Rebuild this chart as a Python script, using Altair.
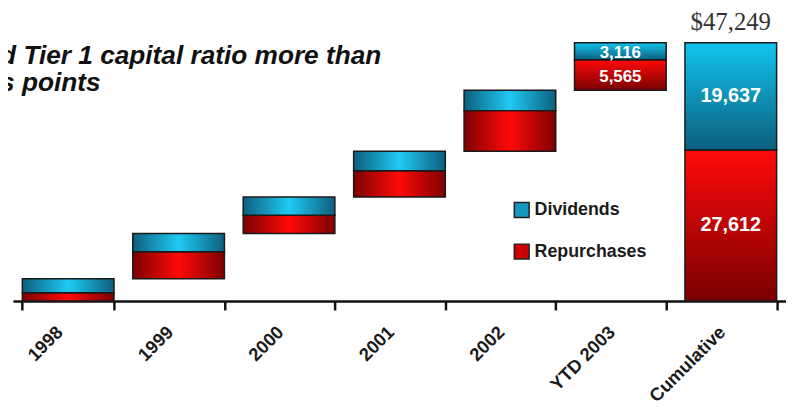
import altair as alt
import pandas as pd

# ---- data ----
categories = ["1998", "1999", "2000", "2001", "2002", "YTD 2003"]
dividends = [2540, 3340, 3340, 3560, 3741, 3116]
repurchases = [1520, 4950, 3320, 4830, 7427, 5565]
total_category = "Cumulative"
series_names = ["Dividends", "Repurchases"]
vertical_shaded = ["YTD 2003", "Cumulative"]
small_labelled = ["YTD 2003"]
big_labelled = ["Cumulative"]
headline_lines = ["d Tier 1 capital ratio more than", "s points"]

order = categories + [total_category]

rows = []
base = 0
for c, d, r in zip(categories, dividends, repurchases):
    rows.append(dict(cat=c, series="Repurchases", lo=base, hi=base + r, val=r))
    rows.append(dict(cat=c, series="Dividends", lo=base + r, hi=base + r + d, val=d))
    base += r + d
tot_r = sum(repurchases)
tot_d = sum(dividends)
rows.append(dict(cat=total_category, series="Repurchases", lo=0, hi=tot_r, val=tot_r))
rows.append(dict(cat=total_category, series="Dividends", lo=tot_r, hi=tot_r + tot_d, val=tot_d))
df = pd.DataFrame(rows)
df["mid"] = (df["lo"] + df["hi"]) / 2
df["shade"] = ["v" if c in vertical_shaded else "h" for c in df["cat"]]
grand_total = tot_r + tot_d
total_df = pd.DataFrame([dict(cat=total_category, top=grand_total,
                              label="$" + format(grand_total, ","))])
head_df = pd.DataFrame([dict(t="\n".join(headline_lines))])

FONT = "Liberation Sans"


def grad(colors, vertical):
    stops = [alt.GradientStop(offset=o, color=c) for o, c in colors]
    if vertical:
        return alt.LinearGradient(gradient="linear", stops=stops, x1=0, x2=0, y1=0, y2=1)
    return alt.LinearGradient(gradient="linear", stops=stops, x1=0, x2=1, y1=0, y2=0)


blue_h = grad([(0, "#0d5f7f"), (0.5, "#1fcaf2"), (1, "#0d5f7f")], False)
red_h = grad([(0, "#7e0000"), (0.5, "#ff0a0a"), (1, "#7e0000")], False)
blue_v = grad([(0, "#12c4ee"), (1, "#0b5f7e")], True)
red_v = grad([(0, "#ff0a0a"), (1, "#7a0000")], True)

x_enc = alt.X(
    "cat:N", sort=order,
    scale=alt.Scale(domain=order, paddingInner=0.17, paddingOuter=0.085),
    axis=alt.Axis(title=None, labelAngle=-45, labelAlign="right", labelBaseline="middle",
                  labelOffset=-9, labelPadding=19, labelFont=FONT, labelFontWeight="bold",
                  labelFontSize=18.5, labelColor="#1a1a1a", domainColor="#111111",
                  domainWidth=2.5, tickColor="#111111", tickWidth=2.5, tickSize=9,
                  tickBand="extent", grid=False, labelOverlap=False, labelBound=False,
                  labelFlush=False),
)
y_scale = alt.Scale(domain=[0, grand_total], nice=False, zero=True)

base_chart = alt.Chart(df)


def bars(series, shade, fill):
    return base_chart.transform_filter(
        (alt.datum.series == series) & (alt.datum.shade == shade)
    ).mark_bar(fill=fill, stroke="#1a1a1a", strokeWidth=1.5).encode(
        x=x_enc,
        y=alt.Y("lo:Q", scale=y_scale, axis=None),
        y2="hi:Q",
    )


layers = [
    bars("Repurchases", "h", red_h),
    bars("Dividends", "h", blue_h),
    bars("Repurchases", "v", red_v),
    bars("Dividends", "v", blue_v),
]

small_labels = base_chart.transform_filter(
    alt.FieldOneOfPredicate(field="cat", oneOf=small_labelled)
).mark_text(font=FONT, fontWeight="bold", fontSize=17, color="white", baseline="middle", dy=2).encode(
    x=x_enc,
    y=alt.Y("mid:Q", scale=y_scale, axis=None),
    text=alt.Text("val:Q", format=","),
)
big_labels = base_chart.transform_filter(
    alt.FieldOneOfPredicate(field="cat", oneOf=big_labelled)
).mark_text(font=FONT, fontWeight="bold", fontSize=20, color="white", baseline="middle").encode(
    x=x_enc,
    y=alt.Y("mid:Q", scale=y_scale, axis=None),
    text=alt.Text("val:Q", format=","),
)
total_text = alt.Chart(total_df).mark_text(
    font="Liberation Serif", fontSize=25, color="#333333", baseline="alphabetic", dy=-13
).encode(
    x=x_enc,
    y=alt.Y("top:Q", scale=y_scale, axis=None),
    text="label:N",
)
headline = alt.Chart(head_df).mark_text(
    font=FONT, fontWeight="bold", fontStyle="italic", fontSize=26.5, color="#111111",
    align="left", baseline="alphabetic", lineBreak="\n", lineHeight=27,
).encode(
    x=alt.value(-13),
    y=alt.value(21.5),
    text="t:N",
)
legend_layer = alt.Chart(pd.DataFrame({"series": series_names})).mark_square(
    opacity=0, stroke="#222222", strokeWidth=1.5
).encode(
    color=alt.Color(
        "series:N", sort=series_names,
        scale=alt.Scale(domain=series_names, range=["#1597c0", "#cf0000"]),
        legend=alt.Legend(title=None, orient="none", legendX=505, legendY=160,
                          symbolType="square", symbolSize=225, symbolStrokeColor="#222222",
                          symbolStrokeWidth=1.5, symbolOpacity=1, labelFontSize=18,
                          labelFont=FONT, labelFontWeight="bold", labelColor="#1a1a1a",
                          rowPadding=20, labelOffset=4, padding=0),
    )
)

chart = alt.layer(*layers, small_labels, big_labels, total_text, headline, legend_layer).properties(
    width=781,
    height=261,
    autosize=alt.AutoSizeParams(type="none"),
    padding={"left": 5, "top": 33, "right": 0, "bottom": 106},
    background="white",
).configure_view(stroke=None)

chart.save("out.html", embed_options={"renderer": "svg", "actions": False})
